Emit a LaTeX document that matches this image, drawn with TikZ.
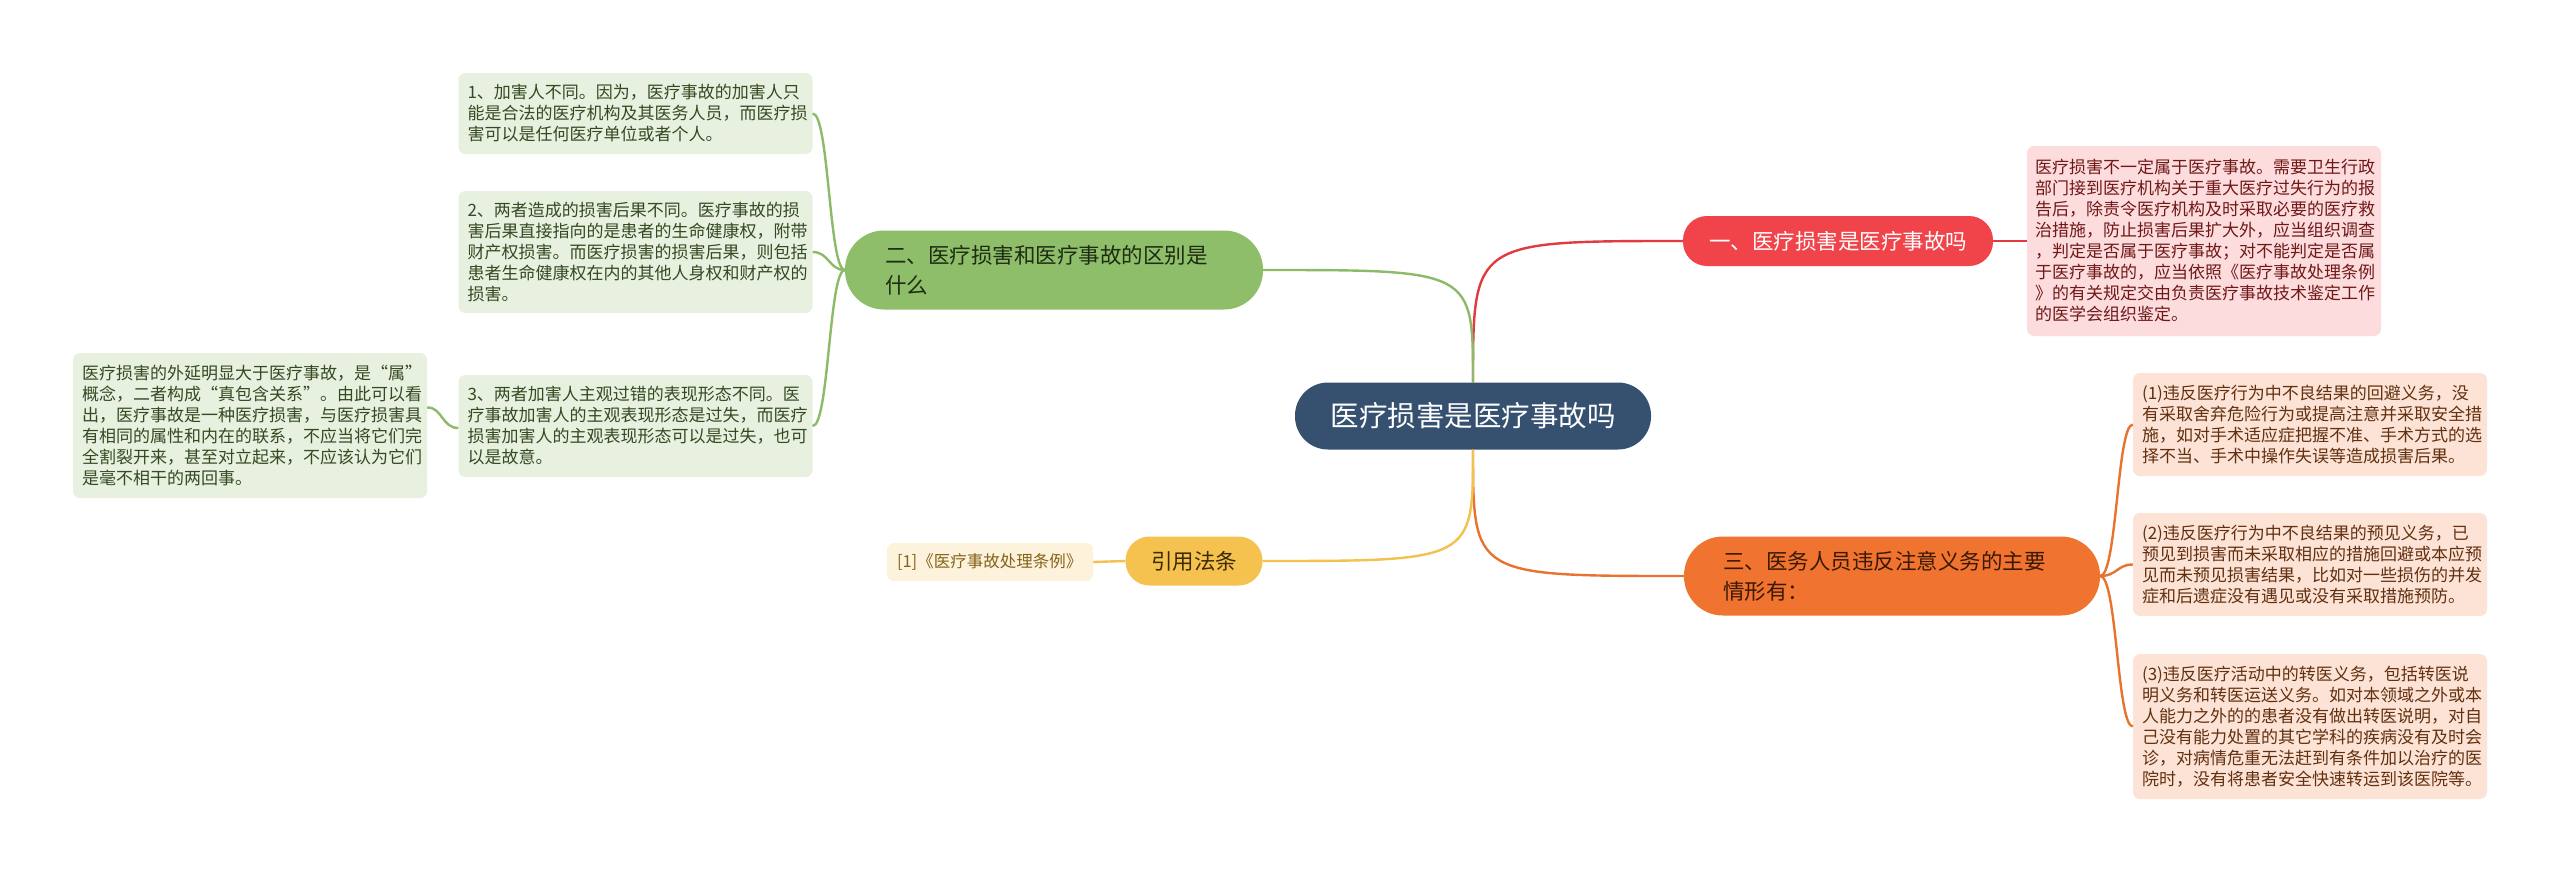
\documentclass[tikz,border=0pt]{standalone}
\usepackage{fontspec}
\newfontfamily\cjk{Noto Sans CJK SC}
\definecolor{rootc}{HTML}{36516F}
\definecolor{redc}{HTML}{F0444A}
\definecolor{redline}{HTML}{E23B3F}
\definecolor{redleaf}{HTML}{FCDCDD}
\definecolor{redtxt}{HTML}{701818}
\definecolor{greenc}{HTML}{8FBE6B}
\definecolor{greenline}{HTML}{8CBA68}
\definecolor{greenleaf}{HTML}{E8F0DF}
\definecolor{greentxt}{HTML}{344A22}
\definecolor{greenbtxt}{HTML}{1E2C12}
\definecolor{orangec}{HTML}{F07430}
\definecolor{orangeline}{HTML}{E8722F}
\definecolor{orangeleaf}{HTML}{FCE3D6}
\definecolor{orangetxt}{HTML}{62300F}
\definecolor{orangebtxt}{HTML}{3A1805}
\definecolor{yellowc}{HTML}{F6C24F}
\definecolor{yellowline}{HTML}{F2C14F}
\definecolor{yellowleaf}{HTML}{FDF3DC}
\definecolor{yellowtxt}{HTML}{85631A}
\definecolor{yellowbtxt}{HTML}{3A2A05}
\begin{document}
\begin{tikzpicture}[x=1pt,y=-1pt,
  rootnode/.style={fill=rootc,text=white,rounded corners=33,minimum width=356,minimum height=67,inner sep=0,font=\cjk\fontsize{28.5}{32}\selectfont},
  branchnode/.style={rounded corners=24,inner sep=0,font=\cjk\fontsize{21.5}{30}\selectfont},
  twoline/.style={rounded corners=39,text width=338,inner xsep=40,inner ysep=0,minimum height=79,align=left,font=\cjk\fontsize{21.5}{30}\selectfont},
  leafnode/.style={rounded corners=7,text width=336,inner xsep=9,inner ysep=0,align=left,font=\cjk\fontsize{17}{21}\selectfont},
  gleaf/.style={leafnode,fill=greenleaf,text=greentxt},
  rleaf/.style={leafnode,fill=redleaf,text=redtxt},
  oleaf/.style={leafnode,fill=orangeleaf,text=orangetxt},
  gconn/.style={draw=greenline,line width=2.4},
  rconn/.style={draw=redline,line width=2.4},
  oconn/.style={draw=orangeline,line width=2.4},
  yconn/.style={draw=yellowline,line width=2.4}
]
\useasboundingbox[fill=white] (0,0) rectangle (2560,873);

% main nodes
\node[rootnode] (c) at (1473,416) {医疗损害是医疗事故吗};
\node[branchnode,fill=redc,text=white,minimum width=310,minimum height=50] (r) at (1838,241) {一、医疗损害是医疗事故吗};
\node[twoline,fill=greenc,text=greenbtxt] (g) at (1054,270) {二、医疗损害和医疗事故的区别是\\什么};
\node[twoline,fill=orangec,text=orangebtxt,text width=338,inner xsep=39,minimum height=79] (o) at (1892,576) {三、医务人员违反注意义务的主要\\情形有：};
\node[branchnode,fill=yellowc,text=yellowbtxt,minimum width=137,minimum height=49] (y) at (1194,561) {引用法条};

% red leaf
\node[rleaf,text width=338,inner xsep=8,minimum height=190] (rd) at (2204,241) {医疗损害不一定属于医疗事故。需要卫生行政\\部门接到医疗机构关于重大医疗过失行为的报\\告后，除责令医疗机构及时采取必要的医疗救\\治措施，防止损害后果扩大外，应当组织调查\\，判定是否属于医疗事故；对不能判定是否属\\于医疗事故的，应当依照《医疗事故处理条例\\》的有关规定交由负责医疗事故技术鉴定工作\\的医学会组织鉴定。};

% green leaves
\node[gleaf,minimum height=81] (g1) at (635.5,113.5) {1、加害人不同。因为，医疗事故的加害人只\\能是合法的医疗机构及其医务人员，而医疗损\\害可以是任何医疗单位或者个人。};
\node[gleaf,minimum height=122] (g2) at (635.5,252) {2、两者造成的损害后果不同。医疗事故的损\\害后果直接指向的是患者的生命健康权，附带\\财产权损害。而医疗损害的损害后果，则包括\\患者生命健康权在内的其他人身权和财产权的\\损害。};
\node[gleaf,minimum height=102] (g3) at (635.5,426) {3、两者加害人主观过错的表现形态不同。医\\疗事故加害人的主观表现形态是过失，而医疗\\损害加害人的主观表现形态可以是过失，也可\\以是故意。};
\node[gleaf,minimum height=145] (gx) at (250,425.5) {医疗损害的外延明显大于医疗事故，是“属”\\概念，二者构成“真包含关系”。由此可以看\\出，医疗事故是一种医疗损害，与医疗损害具\\有相同的属性和内在的联系，不应当将它们完\\全割裂开来，甚至对立起来，不应该认为它们\\是毫不相干的两回事。};

% orange leaves
\node[oleaf,minimum height=103] (o1) at (2310,424.5) {(1)违反医疗行为中不良结果的回避义务，没\\有采取舍弃危险行为或提高注意并采取安全措\\施，如对手术适应症把握不准、手术方式的选\\择不当、手术中操作失误等造成损害后果。};
\node[oleaf,minimum height=103] (o2) at (2310,564.5) {(2)违反医疗行为中不良结果的预见义务，已\\预见到损害而未采取相应的措施回避或本应预\\见而未预见损害结果，比如对一些损伤的并发\\症和后遗症没有遇见或没有采取措施预防。};
\node[oleaf,minimum height=145] (o3) at (2310,726.5) {(3)违反医疗活动中的转医义务，包括转医说\\明义务和转医运送义务。如对本领域之外或本\\人能力之外的的患者没有做出转医说明，对自\\己没有能力处置的其它学科的疾病没有及时会\\诊，对病情危重无法赶到有条件加以治疗的医\\院时，没有将患者安全快速转运到该医院等。};

% yellow leaf
\node[leafnode,fill=yellowleaf,text=yellowtxt,text width=186,inner xsep=10,minimum height=38,font=\cjk\fontsize{16.5}{20}\selectfont] (yl) at (990,562) {[1]《医疗事故处理条例》};

% connectors from root
\draw[rconn] (c.north) .. controls (1473,241) .. (r.west);
\draw[gconn] (c.north) .. controls (1473,270) .. (g.east);
\draw[oconn] (c.south) .. controls (1473,576) .. (o.west);
\draw[yconn] (c.south) .. controls (1473,561) .. (y.east);

% red
\draw[rconn] (r.east) -- (rd.west);
% green
\draw[gconn] (g.west) .. controls (829,270) and (829,113.5) .. (g1.east);
\draw[gconn] (g.west) .. controls (829,270) and (829,252) .. (g2.east);
\draw[gconn] (g.west) .. controls (829,270) and (829,426) .. (g3.east);
\draw[gconn] ([yshift=-2pt]g3.west) .. controls (442,428) and (442,407) .. ([yshift=18pt]gx.east);
% orange
\draw[oconn] (o.east) .. controls (2117,576) and (2117,424.5) .. (o1.west);
\draw[oconn] (o.east) .. controls (2117,576) and (2117,564.5) .. (o2.west);
\draw[oconn] (o.east) .. controls (2117,576) and (2117,726.5) .. (o3.west);
% yellow
\draw[yconn] (y.west) -- (yl.east);
\end{tikzpicture}
\end{document}
